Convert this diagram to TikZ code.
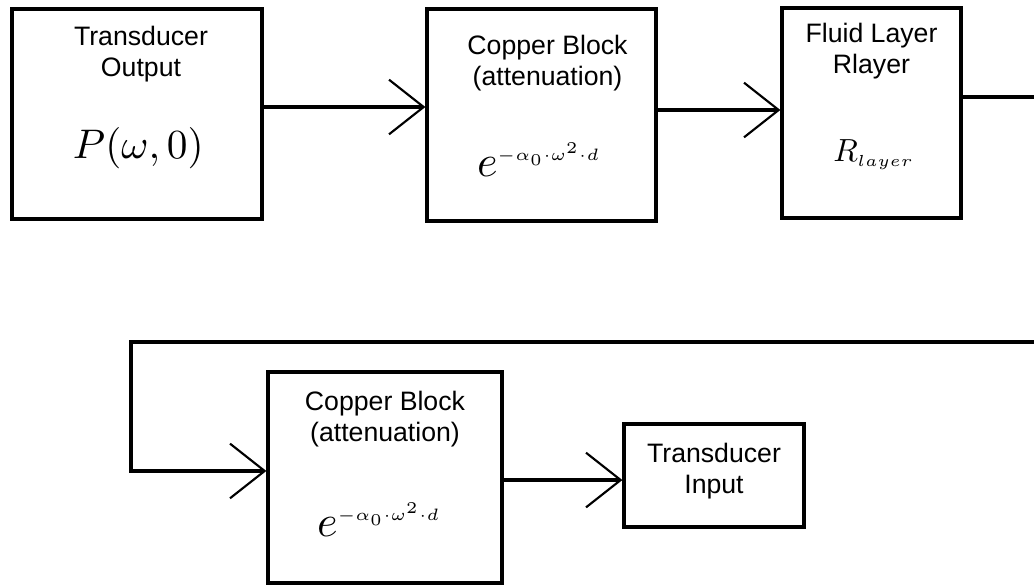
\documentclass[tikz,border=0pt]{standalone}
\usepackage{amsmath}
\usepackage{graphicx}
\usepackage{fontspec}
\setmainfont{Liberation Sans}
\usetikzlibrary{arrows.meta,positioning}

\begin{document}
\begin{tikzpicture}[x=0.75pt,y=-0.75pt,
		block/.style={draw,line width=2.4pt,inner sep=0pt},
		title/.style={anchor=north,align=center,inner sep=0pt,font=\fontsize{20}{23}\selectfont},
		formula/.style={inner sep=0pt},
		wire/.style={line width=2.4pt},
		feed/.style={line width=2.4pt,-{Straight Barb[length=26pt,width=41pt,line width=1.6pt]}}]
			\useasboundingbox (0,0) rectangle (1034,585);
			% upper row
			\node[block,minimum width=187.5pt,minimum height=157.5pt] (tout) at (137,114) {};
			\node[block,minimum width=171.75pt,minimum height=159pt] (cu1) at (541.5,115) {};
			\node[block,minimum width=134.25pt,minimum height=157.5pt] (fluid) at (871.5,113) {};
			\node[title] (tout-t) at ([xshift=3pt,yshift=-14.25pt]tout.north) {Transducer\\Output};
			\node[title] (cu1-t) at ([xshift=4.5pt,yshift=-21pt]cu1.north) {Copper Block\\(attenuation)};
			\node[title] (fluid-t) at ([yshift=-12.75pt]fluid.north) {Fluid Layer\\Rlayer};
			\node[formula] (tout-f) at ([xshift=1pt,yshift=-25.5pt]tout.center) {\scalebox{3.1}{$P(\omega,0)$}};
			\node[formula] (cu1-f) at ([xshift=-1.9pt,yshift=-33.4pt]cu1.center) {\scalebox{3.3}{$e^{\scalebox{0.75}{$\scriptscriptstyle -\alpha_0\cdot\omega^2\cdot d$}}$}};
			\node[formula] (fluid-f) at ([xshift=1.5pt,yshift=-31.5pt]fluid.center) {\scalebox{2.4}{$R_{\scriptscriptstyle layer}$}};
			% lower row
			\node[block,minimum width=175.5pt,minimum height=158.25pt] (cu2) at (385,477.5) {};
			\node[block,minimum width=135pt,minimum height=77.25pt] (tin) at (714,475.5) {};
			\node[title] (cu2-t) at ([yshift=-15.75pt]cu2.north) {Copper Block\\(attenuation)};
			\node[formula] (cu2-f) at ([xshift=-4.5pt,yshift=-31.5pt]cu2.center) {\scalebox{3.3}{$e^{\scalebox{0.75}{$\scriptscriptstyle -\alpha_0\cdot\omega^2\cdot d$}}$}};
			\node[title,anchor=center] (tin-t) at ([yshift=3.4pt]tin.center) {Transducer\\Input};
			% connectors
			\coordinate (edgeA) at (1034,97);
			\coordinate (edgeB) at (1034,342);
			\coordinate (bend) at (131,342);
			\draw[feed] ([yshift=5.25pt]tout.east) -- ([yshift=5.25pt]tout.east -| cu1.west);
			\draw[feed] ([yshift=3.75pt]cu1.east) -- ([yshift=3.75pt]cu1.east -| fluid.west);
			\draw[wire] (fluid.east |- edgeA) -- (edgeA);
			\draw[feed] (edgeB) -- (bend) |- ([yshift=4.9pt]cu2.west);
			\draw[feed] ([yshift=-1.9pt]cu2.east) -- ([yshift=-1.9pt]cu2.east -| tin.west);
		\end{tikzpicture}
\end{document}
